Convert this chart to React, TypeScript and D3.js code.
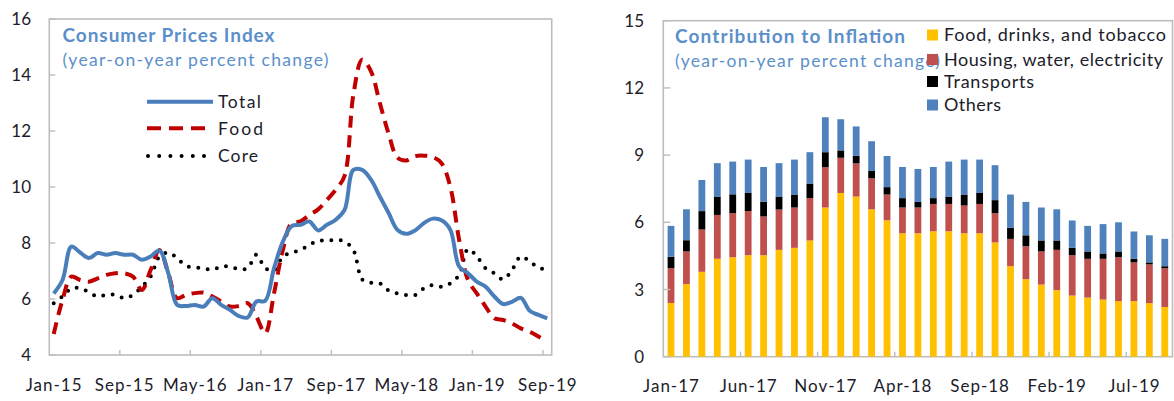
import React from "react";
import * as d3 from "d3";

// ---------- Left chart data (monthly, Jan-15 .. Sep-19) ----------
const months: string[] = d3
  .timeMonth.range(new Date(2015, 0, 1), new Date(2019, 9, 1))
  .map((d) => d3.timeFormat("%b-%y")(d));

const totalCPI = [6.2, 6.68, 7.87, 7.66, 7.46, 7.64, 7.58, 7.64, 7.58, 7.58, 7.4, 7.52, 7.73, 6.92, 5.79, 5.75, 5.79, 5.73, 6.03, 5.79, 5.61, 5.39, 5.34, 5.91, 5.94, 7.1, 8.05, 8.6, 8.65, 8.77, 8.45, 8.65, 8.83, 9.18, 10.61, 10.61, 10.26, 9.66, 9.07, 8.47, 8.33, 8.45, 8.71, 8.87, 8.81, 8.47, 7.16, 6.92, 6.62, 6.44, 6.09, 5.82, 5.9, 6.04, 5.58, 5.43, 5.31];
const foodCPI = [4.75, 5.97, 6.8, 6.68, 6.62, 6.74, 6.86, 6.92, 6.92, 6.8, 6.32, 7.04, 7.75, 6.92, 6.03, 6.15, 6.21, 6.23, 6.09, 5.91, 5.73, 5.75, 5.85, 5.37, 4.78, 6.21, 7.75, 8.71, 8.77, 9.0, 9.2, 9.54, 9.9, 10.4, 13.3, 14.55, 14.13, 13.0, 11.9, 11.05, 10.95, 11.1, 11.12, 11.07, 10.85, 10.0, 8.11, 6.68, 6.2, 5.73, 5.31, 5.25, 5.13, 4.95, 4.83, 4.66, 4.48];
const coreCPI = [5.85, 6.09, 6.38, 6.38, 6.24, 6.09, 6.15, 6.15, 6.03, 6.15, 6.44, 6.8, 7.52, 7.66, 7.46, 7.18, 7.13, 7.1, 7.04, 7.16, 7.16, 7.07, 7.1, 7.58, 7.1, 7.02, 7.52, 7.66, 7.75, 7.93, 8.08, 8.08, 8.11, 8.05, 7.75, 6.7, 6.58, 6.56, 6.3, 6.2, 6.14, 6.14, 6.38, 6.5, 6.44, 6.56, 6.86, 7.78, 7.52, 7.1, 6.92, 6.7, 7.04, 7.52, 7.34, 7.12, 7.04];
const leftYTicks = [4, 6, 8, 10, 12, 14, 16];
const leftXTickLabels = ["Jan-15", "Sep-15", "May-16", "Jan-17", "Sep-17", "May-18", "Jan-19", "Sep-19"];
const leftLegend = ["Total", "Food", "Core"];

// ---------- Right chart data (monthly, Jan-17 .. Sep-19) ----------
const barMonths: string[] = d3
  .timeMonth.range(new Date(2017, 0, 1), new Date(2019, 9, 1))
  .map((d) => d3.timeFormat("%b-%y")(d));

const foodContrib = [2.4, 3.24, 3.79, 4.37, 4.44, 4.53, 4.53, 4.77, 4.86, 5.19, 6.66, 7.31, 7.15, 6.58, 6.09, 5.51, 5.51, 5.6, 5.6, 5.51, 5.51, 5.1, 4.04, 3.46, 3.22, 2.97, 2.73, 2.64, 2.55, 2.48, 2.48, 2.39, 2.22];
const housingContrib = [1.55, 1.46, 1.89, 1.96, 1.97, 1.97, 1.73, 1.8, 1.8, 1.89, 1.8, 1.57, 1.48, 1.39, 1.15, 1.15, 1.15, 1.22, 1.22, 1.24, 1.31, 1.31, 1.22, 1.47, 1.48, 1.8, 1.8, 1.73, 1.82, 1.96, 1.73, 1.73, 1.73];
const transportContrib = [0.51, 0.5, 0.82, 0.82, 0.84, 0.81, 0.66, 0.58, 0.58, 0.65, 0.67, 0.33, 0.34, 0.32, 0.33, 0.42, 0.25, 0.26, 0.33, 0.49, 0.49, 0.58, 0.49, 0.49, 0.49, 0.42, 0.33, 0.33, 0.24, 0.26, 0.16, 0.09, 0.09];
const othersContrib = [1.38, 1.38, 1.39, 1.49, 1.46, 1.49, 1.55, 1.49, 1.56, 1.4, 1.56, 1.39, 1.31, 1.33, 1.39, 1.39, 1.47, 1.39, 1.56, 1.56, 1.49, 1.56, 1.49, 1.49, 1.47, 1.39, 1.22, 1.14, 1.31, 1.3, 1.22, 1.21, 1.22];
const rightYTicks = [0, 3, 6, 9, 12, 15];
const rightXTickLabels = ["Jan-17", "Jun-17", "Nov-17", "Apr-18", "Sep-18", "Feb-19", "Jul-19"];
const seriesNames = ["Food, drinks, and tobacco", "Housing, water, electricity", "Transports", "Others"];
const seriesColors = ["#FFC000", "#C0504D", "#000000", "#4F81BD"];

const FONT = "Lato, 'Open Sans', sans-serif";
const TXT = "#1c1c2a";
const TITLE = "#5B8FCB";
const FRAME = "#BDBDBD";
const TICK_LS = 1.0;
const TICK_FS = 17;

function LeftChart() {
  const x0 = 49.3, x1 = 551.7, yTop = 19, yBot = 355;
  const x = d3.scaleBand<string>().domain(months).range([x0, x1]).paddingInner(0).paddingOuter(0);
  const y = d3.scaleLinear().domain([4, 16]).range([yBot, yTop]);
  const cx = (i: number) => (x(months[i]) as number) + x.bandwidth() / 2;
  const line = d3
    .line<number>()
    .x((_, i) => cx(i))
    .y((v) => y(v))
    .curve(d3.curveCatmullRom.alpha(0.5));
  const tickIdx = leftXTickLabels.map((l) => months.indexOf(l));
  const legY = [101.7, 128.3, 156];
  const legW = [43, 45, 40];
  return (
    <g>
      <rect x={x0} y={yTop} width={x1 - x0} height={yBot - yTop} fill="white" stroke={FRAME} strokeWidth={1.6} />
      {leftYTicks.map((t) => (
        <g key={t}>
          <line x1={x0} x2={x0 + 6} y1={y(t)} y2={y(t)} stroke={FRAME} strokeWidth={1.4} />
          <text x={31} y={y(t)} dy="0.36em" textAnchor="end" fontSize={TICK_FS} fill={TXT} fontFamily={FONT}>
            {t}
          </text>
        </g>
      ))}
      {tickIdx.map((i, k) => (
        <g key={k}>
          {k > 0 && (
            <line x1={x(months[i]) as number} x2={x(months[i]) as number} y1={yBot} y2={yBot - 5} stroke={FRAME} strokeWidth={1.4} />
          )}
          <text x={cx(i) + TICK_LS / 2} y={391} textAnchor="middle" fontSize={TICK_FS} fill={TXT} fontFamily={FONT} letterSpacing={TICK_LS}>
            {leftXTickLabels[k]}
          </text>
        </g>
      ))}
      <path d={line(coreCPI) || ""} fill="none" stroke="#000" strokeWidth={4} strokeLinecap="round" strokeDasharray="0 9.5" />
      <path d={line(foodCPI) || ""} fill="none" stroke="#C00000" strokeWidth={4} strokeDasharray="12 7.5" />
      <path d={line(totalCPI) || ""} fill="none" stroke="#4A7EBB" strokeWidth={4} strokeLinejoin="round" />
      <text x={62.5} y={42} fontSize={19} fontWeight="bold" fill={TITLE} fontFamily={FONT} textLength={212} lengthAdjust="spacing">
        Consumer Prices Index
      </text>
      <text x={62.5} y={66} fontSize={17.5} fill={TITLE} fontFamily={FONT} textLength={266} lengthAdjust="spacing">
        (year-on-year percent change)
      </text>
      {/* legend */}
      <line x1={147} x2={213} y1={legY[0]} y2={legY[0]} stroke="#4A7EBB" strokeWidth={4} />
      <line x1={147} x2={205} y1={legY[1]} y2={legY[1]} stroke="#C00000" strokeWidth={4} strokeDasharray="14 8" />
      <line x1={148} x2={204} y1={legY[2]} y2={legY[2]} stroke="#000" strokeWidth={4} strokeLinecap="round" strokeDasharray="0 11.2" />
      {leftLegend.map((n, i) => (
        <text key={n} x={218} y={legY[i]} dy="0.36em" fontSize={17.5} fill={TXT} fontFamily={FONT} textLength={legW[i]} lengthAdjust="spacing">
          {n}
        </text>
      ))}
    </g>
  );
}

function RightChart() {
  const x0 = 663.3, x1 = 1172.5, yTop = 20.7, yBot = 356.7;
  const x = d3.scaleBand<string>().domain(barMonths).range([x0, x1]).paddingInner(0).paddingOuter(0);
  const y = d3.scaleLinear().domain([0, 15]).range([yBot, yTop]);
  const rows = barMonths.map((m, i) => ({
    m,
    food: foodContrib[i],
    housing: housingContrib[i],
    transport: transportContrib[i],
    others: othersContrib[i],
  }));
  const stack = d3.stack<any>().keys(["food", "housing", "transport", "others"])(rows);
  const bw = 6.8;
  const tickIdx = rightXTickLabels.map((l) => barMonths.indexOf(l));
  const legY = [35, 59.5, 81.5, 105];
  const legW = [222, 219, 90, 57];
  return (
    <g>
      <rect x={x0} y={yTop} width={x1 - x0} height={yBot - yTop} fill="white" stroke={FRAME} strokeWidth={1.6} />
      {stack.map((s, k) => (
        <g key={k} fill={seriesColors[k]}>
          {s.map((d, i) => (
            <rect
              key={i}
              x={(x(barMonths[i]) as number) + x.bandwidth() / 2 - bw / 2}
              width={bw}
              y={y(d[1])}
              height={y(d[0]) - y(d[1])}
            />
          ))}
        </g>
      ))}
      {rightYTicks.map((t) => (
        <g key={t}>
          <line x1={x0} x2={x0 + 7} y1={y(t)} y2={y(t)} stroke={FRAME} strokeWidth={1.4} />
          <text x={644} y={y(t)} dy="0.36em" textAnchor="end" fontSize={TICK_FS} fill={TXT} fontFamily={FONT}>
            {t}
          </text>
        </g>
      ))}
      {tickIdx.map((i, k) => (
        <g key={k}>
          {k > 0 && (
            <line x1={x(barMonths[i]) as number} x2={x(barMonths[i]) as number} y1={yBot} y2={yBot - 5} stroke={FRAME} strokeWidth={1.4} />
          )}
          <text
            x={(x(barMonths[i]) as number) + x.bandwidth() / 2 + TICK_LS / 2}
            y={392}
            textAnchor="middle"
            fontSize={TICK_FS}
            fill={TXT}
            fontFamily={FONT}
            letterSpacing={TICK_LS}
          >
            {rightXTickLabels[k]}
          </text>
        </g>
      ))}
      <text x={675} y={43} fontSize={19} fontWeight="bold" fill={TITLE} fontFamily={FONT} textLength={230} lengthAdjust="spacing">
        Contribution to Inflation
      </text>
      <text x={675} y={67} fontSize={17.5} fill={TITLE} fontFamily={FONT} textLength={265} lengthAdjust="spacing">
        (year-on-year percent change)
      </text>
      {seriesNames.map((n, i) => (
        <g key={n}>
          <rect x={927} y={legY[i] - 5.5} width={11} height={11} fill={seriesColors[i]} />
          <text x={944} y={legY[i]} dy="0.36em" fontSize={18} fill={TXT} fontFamily={FONT} textLength={legW[i]} lengthAdjust="spacing">
            {n}
          </text>
        </g>
      ))}
    </g>
  );
}

export default function App() {
  return (
    <svg
      width={1174}
      height={401}
      viewBox="0 0 1174 401"
      style={{ position: "absolute", left: 0, top: 0, background: "white" }}
    >
      <rect width={1174} height={401} fill="white" />
      <LeftChart />
      <RightChart />
    </svg>
  );
}
